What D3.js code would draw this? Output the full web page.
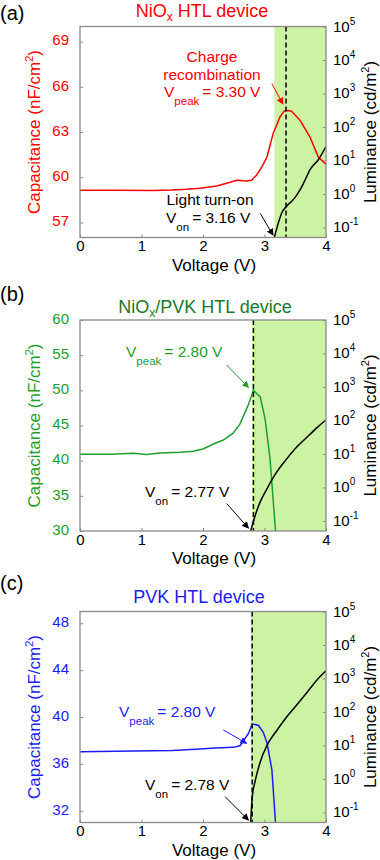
<!DOCTYPE html>
<html>
<head>
<meta charset="utf-8">
<script src="https://cdn.jsdelivr.net/npm/d3@7"></script>
<style>
  body { margin: 0; background: #fff; }
  text { font-family: "Liberation Sans", Arial, sans-serif; }
</style>
</head>
<body>
<svg id="chart" width="380" height="860"></svg>
<script>
// ---- data ----
const voltTicks = [0, 1, 2, 3, 4];
const lumTicks = [0.1, 1, 10, 100, 1000, 10000, 100000];

// (a) NiOx
const capTicksA = [57, 60, 63, 66, 69];
const capVoltA = [0, 0.6, 1.19, 1.5, 1.73, 1.95, 2.22, 2.4, 2.55, 2.7, 2.79, 2.87, 2.96, 3.04, 3.14, 3.25, 3.32, 3.38, 3.44, 3.58, 3.74, 3.875, 4.0];
const capA = [59.13, 59.13, 59.12, 59.15, 59.2, 59.27, 59.42, 59.62, 59.8, 59.75, 59.8, 60.13, 60.7, 61.34, 62.88, 63.98, 64.4, 64.42, 64.38, 63.76, 62.66, 61.34, 60.85];
const lumVoltA = [3.16, 3.225, 3.28, 3.36, 3.47, 3.58, 3.66, 3.74, 3.875, 4.0];
const lumA = [0.05, 0.135, 0.27, 0.43, 0.68, 1.35, 2.6, 5.3, 10.5, 26];

// (b) NiOx/PVK
const capTicksB = [30, 35, 40, 45, 50, 55, 60];
const capVoltB = [0, 0.5, 0.87, 1.08, 1.3, 1.63, 1.84, 2.0, 2.17, 2.33, 2.49, 2.6, 2.74, 2.82, 2.9, 2.93, 3.01, 3.09, 3.18];
const capB = [40.9, 40.92, 41.06, 40.86, 41.1, 41.2, 41.34, 41.66, 42.37, 42.93, 43.92, 45.19, 48.0, 50.03, 49.3, 49.1, 45.9, 40.25, 29.9];
const lumVoltB = [2.775, 2.85, 2.93, 3.04, 3.2, 3.36, 3.52, 3.69, 3.85, 4.0];
const lumB = [0.05, 0.148, 0.37, 0.91, 2.9, 7.1, 15.8, 31.6, 60, 105];

// (c) PVK
const capTicksC = [32, 36, 40, 44, 48];
const capVoltC = [0, 0.87, 1.5, 1.95, 2.2, 2.49, 2.6, 2.74, 2.8, 2.9, 2.98, 3.04, 3.12, 3.18];
const capC = [37.04, 37.1, 37.15, 37.27, 37.35, 37.41, 37.55, 38.6, 39.4, 39.3, 38.7, 37.8, 35.5, 30.9];
const lumVoltC = [2.775, 2.8, 2.85, 2.93, 3.04, 3.2, 3.36, 3.52, 3.69, 3.85, 4.0];
const lumC = [0.05, 0.28, 0.9, 3.2, 10, 28, 71, 158, 380, 890, 1700];

// ---- layout ----
const dims = { left: 80, right: 326, height: 211 };
const shade = "#ccf3a3";

const panels = [
  {
    top: 26.5, tag: "(a)", tagY: 20, title: ["NiO", "x", " HTL device"], titleX: 202, titleY: 17,
    color: "#ff0000", titleColor: "#ff0000", capDomain: [56, 70], capTicks: capTicksA,
    capV: capVoltA, cap: capA, lumV: lumVoltA, lum: lumA, shadeFrom: 3.16, dashV: 3.35,
    notes: [
      { x: 212, y: 62, anchor: "middle", color: "#ff0000", parts: ["Charge"] },
      { x: 212, y: 80, anchor: "middle", color: "#ff0000", parts: ["recombination"] },
      { x: 164, y: 97, anchor: "start", color: "#ff0000", parts: ["V", "peak", "= 3.30 V"] },
      { x: 210, y: 205, anchor: "middle", color: "#000", parts: ["Light turn-on"] },
      { x: 166, y: 223, anchor: "start", color: "#000", parts: ["V", "on", "= 3.16 V"] }
    ],
    arrows: [
      { from: [3.12, 66.2], to: [3.30, 64.85], color: "#ff0000" },
      { from: [2.93, 57.6], to: [3.14, 56.15], color: "#000" }
    ]
  },
  {
    top: 320, tag: "(b)", tagY: 301, title: ["NiO", "x", "/PVK HTL device"], titleX: 205, titleY: 313,
    color: "#1e9e2c", titleColor: "#17792a", capDomain: [30, 60], capTicks: capTicksB,
    capV: capVoltB, cap: capB, lumV: lumVoltB, lum: lumB, shadeFrom: 2.80, dashV: 2.82,
    notes: [
      { x: 126, y: 357, anchor: "start", color: "#1e9e2c", parts: ["V", "peak", "= 2.80 V"] },
      { x: 145, y: 497, anchor: "start", color: "#000", parts: ["V", "on", "= 2.77 V"] }
    ],
    arrows: [
      { from: [2.385, 53.6], to: [2.74, 50.4], color: "#1e9e2c" },
      { from: [2.385, 33.9], to: [2.74, 30.4], color: "#000" }
    ]
  },
  {
    top: 611.5, tag: "(c)", tagY: 590, title: ["PVK HTL device"], titleX: 199, titleY: 603,
    color: "#1c1cf0", titleColor: "#1c1cf0", capDomain: [31, 49], capTicks: capTicksC,
    capV: capVoltC, cap: capC, lumV: lumVoltC, lum: lumC, shadeFrom: 2.775, dashV: 2.80,
    notes: [
      { x: 119, y: 717, anchor: "start", color: "#1c1cf0", parts: ["V", "peak", "= 2.80 V"] },
      { x: 145, y: 790, anchor: "start", color: "#000", parts: ["V", "on", "= 2.78 V"] }
    ],
    arrows: [
      { from: [2.33, 38.9], to: [2.71, 37.75], color: "#1c1cf0" },
      { from: [2.36, 33.2], to: [2.74, 31.2], color: "#000" }
    ]
  }
];

const svg = d3.select("#chart");
const defs = svg.append("defs");

// arrow heads, one per colour
const arrowColors = ["#ff0000", "#1e9e2c", "#1c1cf0", "#000"];
arrowColors.forEach((c, i) => {
  defs.append("marker")
    .attr("id", "arrow" + i)
    .attr("viewBox", "0 0 10 10")
    .attr("refX", 9).attr("refY", 5)
    .attr("markerWidth", 7).attr("markerHeight", 7)
    .attr("markerUnits", "userSpaceOnUse")
    .attr("orient", "auto")
    .append("path")
    .attr("d", "M0,0 L10,5 L0,10 z")
    .attr("fill", c);
});

const x = d3.scaleLinear().domain([0, 4]).range([dims.left, dims.right]);

panels.forEach((p, i) => {
  const bottom = p.top + dims.height;
  const yCap = d3.scaleLinear().domain(p.capDomain).range([bottom, p.top]);
  const yLum = d3.scaleLog().domain([0.05, 1e5]).range([bottom, p.top]);

  const clipId = "clip" + i;
  defs.append("clipPath").attr("id", clipId)
    .append("rect")
    .attr("x", dims.left).attr("y", p.top)
    .attr("width", dims.right - dims.left).attr("height", dims.height);

  // panel tag and title
  svg.append("text").text(p.tag)
    .attr("x", 0).attr("y", p.tagY)
    .attr("font-size", 20).attr("fill", "#000");

  const t = svg.append("text")
    .attr("x", p.titleX).attr("y", p.titleY)
    .attr("text-anchor", "middle")
    .attr("font-size", 18).attr("fill", p.titleColor);
  if (p.title.length === 1) {
    t.append("tspan").text(p.title[0]);
  } else {
    t.append("tspan").text(p.title[0]);
    t.append("tspan").text(p.title[1]).attr("font-size", 12).attr("dy", 4);
    t.append("tspan").text(p.title[2]).attr("dy", -4);
  }

  // green region after turn-on
  svg.append("rect")
    .attr("x", x(p.shadeFrom)).attr("y", p.top)
    .attr("width", x(4) - x(p.shadeFrom)).attr("height", dims.height)
    .attr("fill", shade);

  const plot = svg.append("g").attr("clip-path", "url(#" + clipId + ")");

  // capacitance
  const capPts = p.capV.map((v, k) => [v, p.cap[k]]);
  plot.append("path")
    .datum(capPts)
    .attr("d", d3.line().x(d => x(d[0])).y(d => yCap(d[1])))
    .attr("fill", "none").attr("stroke", p.color).attr("stroke-width", 1.5);

  // luminance
  const lumPts = p.lumV.map((v, k) => [v, p.lum[k]]);
  plot.append("path")
    .datum(lumPts)
    .attr("d", d3.line().curve(d3.curveMonotoneX).x(d => x(d[0])).y(d => yLum(d[1])))
    .attr("fill", "none").attr("stroke", "#000").attr("stroke-width", 1.5);

  // dashed marker line
  svg.append("line")
    .attr("x1", x(p.dashV)).attr("x2", x(p.dashV))
    .attr("y1", p.top).attr("y2", bottom)
    .attr("stroke", "#000").attr("stroke-width", 1.5)
    .attr("stroke-dasharray", "5,3");

  // frame
  svg.append("rect")
    .attr("x", dims.left).attr("y", p.top)
    .attr("width", dims.right - dims.left).attr("height", dims.height)
    .attr("fill", "none").attr("stroke", "#8a8a8a").attr("stroke-width", 1.3);

  // left axis
  const gl = svg.append("g")
    .attr("transform", "translate(" + dims.left + ",0)")
    .call(d3.axisLeft(yCap).tickValues(p.capTicks).tickSize(-3).tickPadding(11).tickFormat(d3.format("d")));
  gl.select(".domain").remove();
  gl.selectAll(".tick line").attr("stroke", "#8a8a8a");
  gl.selectAll(".tick text")
    .attr("font-size", 15).attr("fill", p.color).attr("dy", "0.22em")
    .attr("font-family", "Liberation Sans, Arial, sans-serif");

  // right axis (ticks only, labels drawn with superscripts)
  const gr = svg.append("g")
    .attr("transform", "translate(" + dims.right + ",0)")
    .call(d3.axisRight(yLum).tickValues(lumTicks).tickSize(-3).tickFormat(""));
  gr.select(".domain").remove();
  gr.selectAll(".tick line").attr("stroke", "#8a8a8a");

  lumTicks.forEach(v => {
    const e = Math.round(Math.log10(v));
    const lt = svg.append("text")
      .attr("x", 333).attr("y", yLum(v) + 5)
      .attr("font-size", 15).attr("fill", "#000");
    lt.append("tspan").text("10");
    lt.append("tspan").text(e).attr("font-size", 10).attr("dy", -7);
  });

  // bottom axis
  const gb = svg.append("g")
    .attr("transform", "translate(0," + bottom + ")")
    .call(d3.axisBottom(x).tickValues(voltTicks).tickSize(-3).tickPadding(3).tickFormat(d3.format("d")));
  gb.select(".domain").remove();
  gb.selectAll(".tick line").attr("stroke", "#8a8a8a");
  gb.selectAll(".tick text")
    .attr("font-size", 15).attr("fill", "#000")
    .attr("font-family", "Liberation Sans, Arial, sans-serif");

  // axis titles
  svg.append("text").text("Voltage (V)")
    .attr("x", 214).attr("y", bottom + 33)
    .attr("text-anchor", "middle")
    .attr("font-size", 17).attr("fill", "#000");

  const mid = p.top + dims.height / 2;
  const ct = svg.append("text")
    .attr("transform", "translate(40," + mid + ") rotate(-90)")
    .attr("text-anchor", "middle")
    .attr("font-size", 17).attr("fill", p.color);
  ct.append("tspan").text("Capacitance (nF/cm");
  ct.append("tspan").text("2").attr("font-size", 11).attr("dy", -7);
  ct.append("tspan").text(")").attr("dy", 7);

  const rt = svg.append("text")
    .attr("transform", "translate(376," + mid + ") rotate(-90)")
    .attr("text-anchor", "middle")
    .attr("font-size", 17).attr("fill", "#000");
  rt.append("tspan").text("Luminance (cd/m");
  rt.append("tspan").text("2").attr("font-size", 11).attr("dy", -7);
  rt.append("tspan").text(")").attr("dy", 7);

  // annotations
  p.notes.forEach(n => {
    const nt = svg.append("text")
      .attr("x", n.x).attr("y", n.y)
      .attr("text-anchor", n.anchor)
      .attr("font-size", 15.5).attr("fill", n.color);
    if (n.parts.length === 1) {
      nt.append("tspan").text(n.parts[0]);
    } else {
      nt.append("tspan").text(n.parts[0]);
      nt.append("tspan").text(n.parts[1]).attr("font-size", 11.5).attr("dy", 8);
      nt.append("tspan").text(n.parts[2]).attr("dy", -8).attr("dx", 3);
    }
  });

  p.arrows.forEach(a => {
    svg.append("line")
      .attr("x1", x(a.from[0])).attr("y1", yCap(a.from[1]))
      .attr("x2", x(a.to[0])).attr("y2", yCap(a.to[1]))
      .attr("stroke", a.color).attr("stroke-width", 1)
      .attr("marker-end", "url(#arrow" + arrowColors.indexOf(a.color) + ")");
  });
});
</script>
</body>
</html>
